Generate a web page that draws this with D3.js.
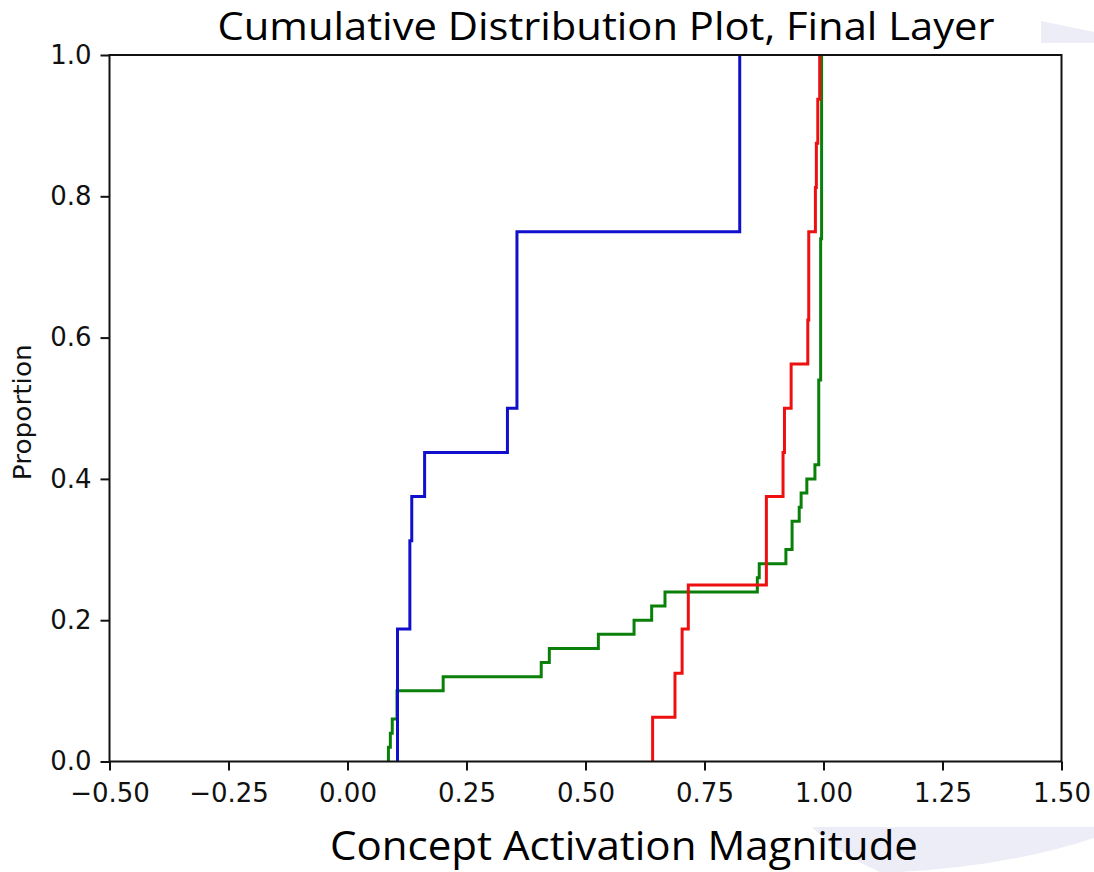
<!DOCTYPE html>
<html>
<head>
<meta charset="utf-8">
<script src="https://cdn.jsdelivr.net/npm/d3@7"></script>
<style>
  body { margin: 0; background: #fff; }
  svg { display: block; }
</style>
</head>
<body>
<svg id="chart" width="1094" height="872"></svg>
<script>
// Raw sample values (each curve is the ECDF of these)
const blueValues = [0.105, 0.105, 0.105, 0.131, 0.131, 0.135, 0.162, 0.336,
  0.356, 0.356, 0.356, 0.356, 0.824, 0.824, 0.824, 0.824];
const redValues = [0.641, 0.688, 0.703, 0.716, 0.880, 0.880, 0.915, 0.918,
  0.932, 0.967, 0.969, 0.969, 0.983, 0.985, 0.988, 0.992];
const greenValues = [0.086, 0.090, 0.094, 0.104, 0.104, 0.201, 0.407, 0.424,
  0.527, 0.602, 0.639, 0.667, 0.861, 0.865, 0.921, 0.934, 0.934, 0.949,
  0.953, 0.965, 0.982, 0.990, 0.990, 0.990, 0.990, 0.990, 0.990,
  0.994, 0.994, 0.994, 0.994, 0.994, 0.994, 0.994, 0.994, 0.994, 0.994,
  0.996, 0.996, 0.996, 0.996, 0.996, 0.996, 0.996, 0.996, 0.996, 0.996,
  0.996, 0.996, 0.996];

const xTicks = [-0.5, -0.25, 0, 0.25, 0.5, 0.75, 1.0, 1.25, 1.5];
const yTicks = [0, 0.2, 0.4, 0.6, 0.8, 1.0];

const series = [
  { values: greenValues, color: "#0a800a" },
  { values: redValues, color: "#ee1010" },
  { values: blueValues, color: "#1010cc" }
];

const titleText = "Cumulative Distribution Plot, Final Layer";
const xLabelText = "Concept Activation Magnitude";
const yLabelText = "Proportion";

const margin = { top: 55, right: 32.5, bottom: 110.5, left: 109.5 };
const width = 1094 - margin.left - margin.right;
const height = 872 - margin.top - margin.bottom;

const svg = d3.select("#chart");

// faint slide decorations behind the figure
svg.append("path")
  .attr("d", "M1041,21 L1094,32 L1094,43 L1041,43 Z")
  .attr("fill", "#ededf7");
svg.append("path")
  .attr("d", "M812,827 L1094,827 L1094,838 Q1010,866 900,872 L880,872 Q835,852 812,827 Z")
  .attr("fill", "#ededf7");

const g = svg.append("g")
  .attr("transform", `translate(${margin.left},${margin.top})`);

const x = d3.scaleLinear().domain([-0.5, 1.5]).range([0, width]);
const y = d3.scaleLinear().domain([0, 1]).range([height, 0]);

g.append("clipPath").attr("id", "plotClip")
  .append("rect").attr("width", width).attr("height", height);

const line = d3.line()
  .x((d) => x(d[0]))
  .y((d) => y(d[1]))
  .curve(d3.curveStepAfter);

function ecdf(values) {
  const sorted = values.slice().sort(d3.ascending);
  const n = sorted.length;
  const pts = [[sorted[0], 0]];
  sorted.forEach((v, i) => pts.push([v, (i + 1) / n]));
  return pts;
}

g.append("g")
  .attr("clip-path", "url(#plotClip)")
  .selectAll("path")
  .data(series)
  .enter()
  .append("path")
  .attr("d", (d) => line(ecdf(d.values)))
  .attr("fill", "none")
  .attr("stroke", (d) => d.color)
  .attr("stroke-width", 3)
  .attr("stroke-linejoin", "miter");

// axes
const xAxis = g.append("g")
  .attr("transform", `translate(0,${height})`)
  .call(d3.axisBottom(x).tickValues(xTicks).tickFormat(d3.format(".2f"))
    .tickSize(9).tickPadding(13));
const yAxis = g.append("g")
  .call(d3.axisLeft(y).tickValues(yTicks).tickFormat(d3.format(".1f"))
    .tickSize(9).tickPadding(9));

[xAxis, yAxis].forEach((ax) => {
  ax.select(".domain").remove();
  ax.selectAll("line").attr("stroke", "#111").attr("stroke-width", 2);
  ax.selectAll("text")
    .attr("fill", "#111")
    .style("font-family", "'DejaVu Sans', sans-serif")
    .style("font-size", "26px");
});

// frame
g.append("rect")
  .attr("width", width)
  .attr("height", height)
  .attr("fill", "none")
  .attr("stroke", "#111")
  .attr("stroke-width", 2);

// y label
svg.append("text")
  .attr("transform", `translate(31,${margin.top + height / 2 + 4}) rotate(-90)`)
  .attr("text-anchor", "middle")
  .attr("textLength", 136)
  .attr("lengthAdjust", "spacingAndGlyphs")
  .style("font-family", "'DejaVu Sans', sans-serif")
  .style("font-size", "24px")
  .attr("fill", "#111")
  .text(yLabelText);

// title and x label (slide text)
svg.append("text")
  .attr("x", 606)
  .attr("y", 40)
  .attr("text-anchor", "middle")
  .attr("textLength", 777)
  .attr("lengthAdjust", "spacingAndGlyphs")
  .style("font-family", "'Open Sans', sans-serif")
  .style("font-size", "38px")
  .attr("fill", "#000")
  .text(titleText);

svg.append("text")
  .attr("x", 624)
  .attr("y", 860)
  .attr("text-anchor", "middle")
  .attr("textLength", 588)
  .attr("lengthAdjust", "spacingAndGlyphs")
  .style("font-family", "'Open Sans', sans-serif")
  .style("font-size", "40px")
  .attr("fill", "#000")
  .text(xLabelText);
</script>
</body>
</html>
